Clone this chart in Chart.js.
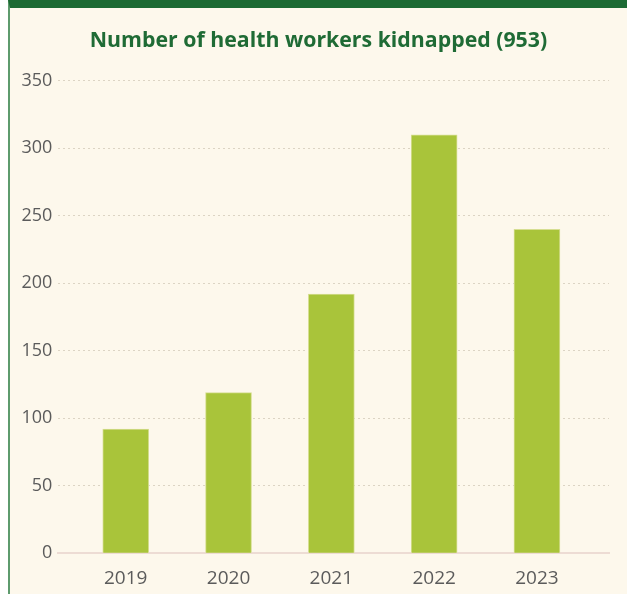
<!DOCTYPE html>
<html>
<head>
<meta charset="utf-8">
<script src="https://cdn.jsdelivr.net/npm/chart.js@4"></script>
<style>
  html, body { margin: 0; padding: 0; background: #ffffff; width: 627px; height: 594px; overflow: hidden; }
  #panel { position: absolute; left: 8px; top: 0; width: 617px; height: 586px;
           background: #fdf8ec; border-left: 2px solid #5e9b6d; border-top: 8px solid #1c6a33; }
  #wrap { position: absolute; left: 0; top: 0; width: 617px; height: 586px; }
</style>
</head>
<body>
<div id="panel"><div id="wrap"><canvas id="c" width="617" height="586"></canvas></div></div>
<script>
const titleText = "Number of health workers kidnapped (953)";
const years = [2019, 2020, 2021, 2022, 2023];
const kidnapped = [92, 119, 192, 310, 240];
const yTicks = [0, 50, 100, 150, 200, 250, 300, 350];

const points = years.map((y, i) => ({ x: y, y: kidnapped[i] }));

new Chart(document.getElementById('c'), {
  type: 'bar',
  data: {
    datasets: [{
      data: points,
      backgroundColor: '#a9c43a',
      borderColor: '#d6de92',
      borderWidth: 1,
      barThickness: 46
    }]
  },
  options: {
    responsive: false,
    animation: false,
    layout: { padding: { left: 0, right: 0, top: 0, bottom: 0 } },
    plugins: {
      legend: { display: false },
      tooltip: { enabled: false },
      title: {
        display: true,
        text: titleText,
        color: '#1f6b35',
        font: { family: 'Open Sans', weight: 'bold', size: 21.3 },
        padding: { top: 20, bottom: 27.2 }
      }
    },
    scales: {
      x: {
        type: 'linear',
        offset: false,
        min: 2018.344,
        max: 2023.701,
        afterBuildTicks: (s) => { s.ticks = years.map(v => ({ value: v })); },
        afterFit: (s) => { s.height = 40.7; },
        ticks: {
          callback: (v) => String(v),
          color: '#5b5b5b',
          font: { family: 'Open Sans', size: 19 },
          padding: 14
        },
        grid: { display: false, drawTicks: false, offset: false },
        border: { display: true, color: '#eddcd4', width: 2 }
      },
      y: {
        min: 0,
        max: 350,
        afterBuildTicks: (s) => { s.ticks = yTicks.map(v => ({ value: v })); },
        afterFit: (s) => { s.width = 48.3; },
        ticks: {
          color: '#5b5b5b',
          font: { family: 'Open Sans', size: 18 },
          padding: 6
        },
        grid: {
          drawTicks: false,
          lineWidth: 1,
          color: (ctx) => (ctx.tick && ctx.tick.value === 0) ? 'rgba(0,0,0,0)' : '#dcd4c4'
        },
        border: { display: false, dash: [2, 3] }
      },
      yRight: {
        position: 'right',
        min: 0,
        max: 350,
        afterFit: (s) => { s.width = 18; },
        ticks: { display: false },
        grid: { display: false, drawTicks: false },
        border: { display: false }
      }
    }
  }
});
</script>
</body>
</html>
